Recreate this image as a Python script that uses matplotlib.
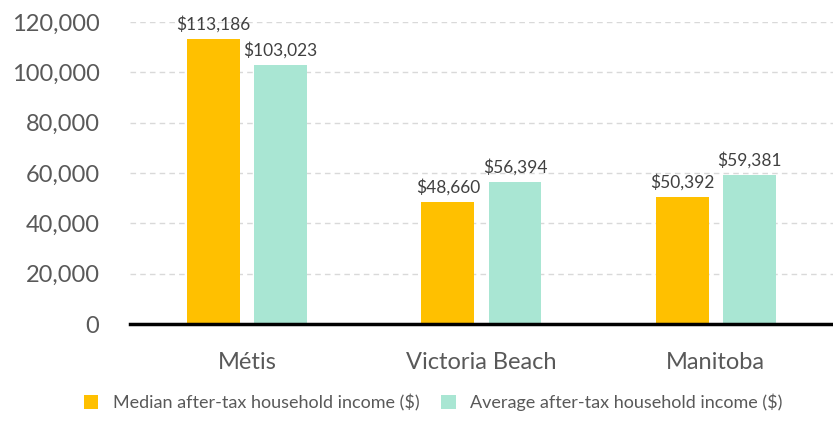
import numpy as np
import matplotlib
matplotlib.use('agg')
import matplotlib.pyplot as plt
from matplotlib.ticker import FuncFormatter

# data
categories = ["Métis", "Victoria Beach", "Manitoba"]
median_income = [113186, 48660, 50392]
average_income = [103023, 56394, 59381]
series_names = ["Median after-tax household income ($)", "Average after-tax household income ($)"]

plt.rcParams['font.family'] = ['Lato', 'DejaVu Sans']
txt = '#595959'

fig = plt.figure(figsize=(8.33, 4.21), dpi=100)
ax = fig.add_axes([0.156, 0.2304, 0.844, 0.7173])

x = np.arange(len(categories))
w = 0.226
off = 0.143
b1 = ax.bar(x - off, median_income, w, color='#FFC000', label=series_names[0], zorder=3)
b2 = ax.bar(x + off, average_income, w, color='#A9E6D3', label=series_names[1], zorder=3)

for bars in (b1, b2):
    for r in bars:
        ax.text(r.get_x() + r.get_width() / 2, r.get_height() + 2500, '${:,}'.format(int(r.get_height())),
                ha='center', va='bottom', fontsize=12.5, color='#404040')

ax.set_xlim(-0.5, 2.5)
ax.set_ylim(0, 120000)
ax.set_yticks(range(0, 120001, 20000))
ax.yaxis.set_major_formatter(FuncFormatter(lambda v, p: '{:,}'.format(int(v))))
ax.set_xticks(x)
ax.set_xticklabels(categories)
ax.tick_params(axis='y', length=0, labelsize=17, labelcolor=txt, pad=22)
ax.tick_params(axis='x', length=0, labelsize=17, labelcolor=txt, pad=20)
ax.yaxis.grid(True, linestyle=(0, (4, 3)), color='#D9D9D9', linewidth=1, zorder=0)
for s in ['top', 'right', 'left']:
    ax.spines[s].set_visible(False)
ax.spines['bottom'].set_linewidth(2.5)
ax.spines['bottom'].set_color('black')
ax.spines['bottom'].set_zorder(4)

leg = fig.legend(loc='lower center', bbox_to_anchor=(0.52, -0.015), ncol=2, frameon=False,
                 fontsize=13, handlelength=0.8, handleheight=0.8, handletextpad=0.8, columnspacing=1.2)
for t in leg.get_texts():
    t.set_color(txt)

fig.savefig('out.png', dpi=100)
